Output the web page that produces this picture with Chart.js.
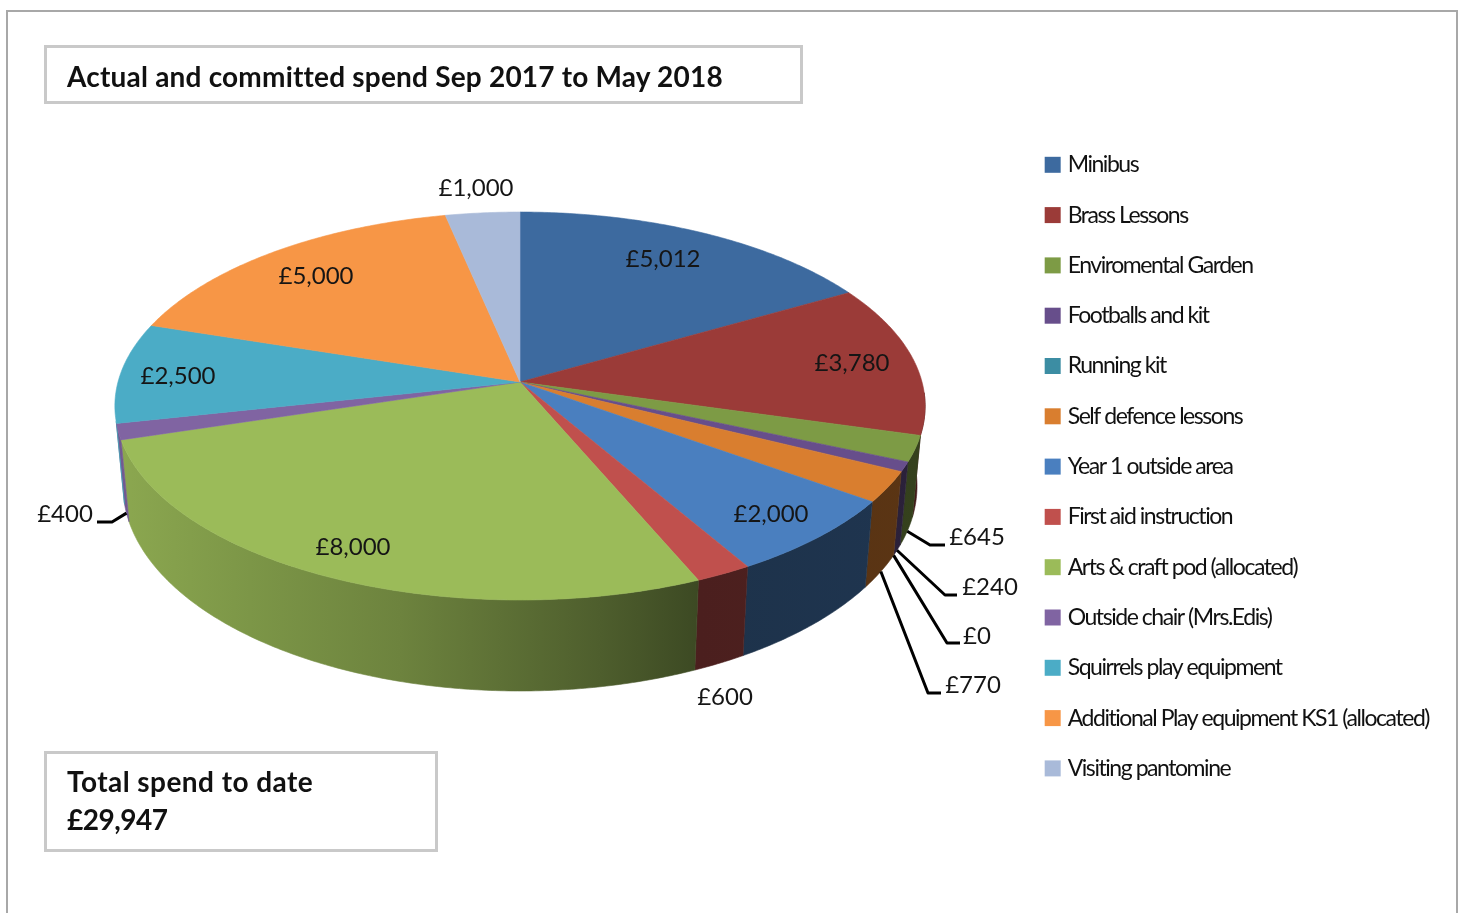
<!DOCTYPE html>
<html>
<head>
<meta charset="utf-8">
<title>Actual and committed spend</title>
<script src="https://cdn.jsdelivr.net/npm/chart.js@4"></script>
<style>
  html, body { margin: 0; padding: 0; background: #fff; overflow: hidden; }
  #wrap { position: relative; width: 1461px; height: 913px; overflow: hidden; }
  #myChart { position: absolute; left: 0; top: 0; }
  #frame { position: absolute; left: 6px; top: 10px; width: 1448px; height: 920px; border: 2px solid #a8a8a8; }
  .box { position: absolute; box-sizing: border-box; border: 3px solid #c9c9c9; font: bold 28px Lato, sans-serif; color: #111; }
  #titleBox { left: 44px; top: 45px; width: 759px; height: 59px; padding: 11px 0 0 20px; letter-spacing: 0.2px; }
  #totalBox { left: 44px; top: 751px; width: 394px; height: 101px; padding: 8px 0 0 20px; line-height: 38px; letter-spacing: 0.45px; }
  #totalBox span { letter-spacing: -0.5px; }
</style>
</head>
<body>
<div id="wrap">
  <div id="frame"></div>
  <canvas id="myChart" width="1461" height="913"></canvas>
  <div class="box" id="titleBox">Actual and committed spend Sep 2017 to May 2018</div>
  <div class="box" id="totalBox">Total spend to date<br><span>£29,947</span></div>
</div>
<script>
// chart data
const categories = ['Minibus', 'Brass Lessons', 'Enviromental Garden', 'Footballs and kit', 'Running kit',
  'Self defence lessons', 'Year 1 outside area', 'First aid instruction', 'Arts & craft pod (allocated)',
  'Outside chair (Mrs.Edis)', 'Squirrels play equipment', 'Additional Play equipment KS1 (allocated)', 'Visiting pantomine'];
const spend = [5012, 3780, 645, 240, 0, 770, 2000, 600, 8000, 400, 2500, 5000, 1000];
const sliceColors = ['#3d6a9f', '#9b3b38', '#7d9b45', '#674e8b', '#3c8da3', '#d97e2f', '#4a7fbf',
  '#c0504d', '#9bbb59', '#8064a2', '#4bacc6', '#f79646', '#a9bad9'];

// where each value label sits, in page pixels, same order as spend
const labelSpots = [[663, 259], [852, 363], [977, 537], [990, 587], [977, 636], [973, 685], [771, 514],
  [725, 697], [353, 547], [65, 514], [178, 376], [316, 276], [476, 188]];
// outer end of the leader lines: [elbow x, elbow y, end x]
const leaders = { 2: [930, 545, 945], 3: [945, 595, 957], 4: [947, 643, 960], 5: [928, 693, 941], 9: [112, 522, 97] };

// pie look: apex, radii and perspective
const apexX = 520, apexY = 382, radX = 402, radY = 191, persp = 0.1238;
const wallDepth = 80, wallGrow = 11, wallShrink = 0.98, ellipseMidY = 406, ellipseHalfY = 194;
const wallShade = [[115, 0.9], [250, 0.8], [400, 0.7], [600, 0.5], [700, 0.39], [925, 0.42]];
const legendSpacing = '-1.45px';

function topPoint(angle) {
  const u = Math.cos(angle), v = Math.sin(angle), d = 1 - persp * v;
  return [apexX + radX * u / d, apexY + radY * v / d];
}

function bottomPoint(angle) {
  const p = topPoint(angle);
  return [apexX + (p[0] - apexX) * wallShrink,
    p[1] + wallDepth + (p[1] - ellipseMidY) / ellipseHalfY * wallGrow];
}

function rimAngles(start, end) {
  const out = [], steps = Math.max(2, Math.ceil((end - start) / 0.01));
  for (let i = 0; i <= steps; i++) out.push(start + (end - start) * i / steps);
  return out;
}

// the wall only shows on the front of the pie
function wallShows(angle) {
  return Math.sin(angle) >= (Math.cos(angle) < 0 ? 0.2 : 0.05);
}

function shade(hex, f) {
  const n = parseInt(hex.slice(1), 16);
  return 'rgb(' + Math.round((n >> 16) * f) + ',' + Math.round(((n >> 8) & 255) * f) + ',' + Math.round((n & 255) * f) + ')';
}

const pie3d = {
  id: 'pie3d',
  beforeLayout(chart) { chart.ctx.letterSpacing = legendSpacing; },
  beforeDraw(chart) { chart.ctx.letterSpacing = legendSpacing; },
  beforeDatasetsDraw(chart) {
    const ctx = chart.ctx, arcs = chart.getDatasetMeta(0).data;
    ctx.save();
    ctx.letterSpacing = '0px';

    // side wall
    arcs.forEach((arc, i) => {
      if (spend[i] === 0) return;
      const angles = rimAngles(arc.startAngle, arc.endAngle).filter(wallShows);
      if (angles.length < 2) return;
      const g = ctx.createLinearGradient(115, 0, 925, 0);
      wallShade.forEach(s => g.addColorStop((s[0] - 115) / 810, shade(sliceColors[i], s[1])));
      ctx.beginPath();
      angles.forEach((a, k) => { const p = topPoint(a); k ? ctx.lineTo(p[0], p[1]) : ctx.moveTo(p[0], p[1]); });
      angles.slice().reverse().forEach(a => { const p = bottomPoint(a); ctx.lineTo(p[0], p[1]); });
      ctx.closePath();
      ctx.fillStyle = g;
      ctx.strokeStyle = g;
      ctx.lineWidth = 0.6;
      ctx.fill();
      ctx.stroke();
    });

    // top face
    arcs.forEach((arc, i) => {
      if (spend[i] === 0) return;
      ctx.beginPath();
      ctx.moveTo(apexX, apexY);
      rimAngles(arc.startAngle, arc.endAngle).forEach(a => { const p = topPoint(a); ctx.lineTo(p[0], p[1]); });
      ctx.closePath();
      ctx.fillStyle = sliceColors[i];
      ctx.strokeStyle = sliceColors[i];
      ctx.lineWidth = 0.6;
      ctx.fill();
      ctx.stroke();
    });

    // leader lines
    ctx.strokeStyle = '#000';
    ctx.lineWidth = 3;
    ctx.lineJoin = 'round';
    Object.keys(leaders).forEach(i => {
      const arc = arcs[i], p = bottomPoint((arc.startAngle + arc.endAngle) / 2), l = leaders[i];
      ctx.beginPath();
      ctx.moveTo(p[0], p[1]);
      ctx.lineTo(l[0], l[1]);
      ctx.lineTo(l[2], l[1]);
      ctx.stroke();
    });

    // value labels
    ctx.font = '24px Lato, sans-serif';
    ctx.fillStyle = '#151515';
    ctx.textAlign = 'center';
    ctx.textBaseline = 'middle';
    spend.forEach((v, i) => {
      ctx.fillText('£' + v.toLocaleString('en-GB'), labelSpots[i][0], labelSpots[i][1]);
    });
    ctx.restore();
    return false;
  }
};

new Chart(document.getElementById('myChart'), {
  type: 'pie',
  data: {
    labels: categories,
    // border only thickens the legend squares, the slices are painted by pie3d
    datasets: [{ data: spend, backgroundColor: sliceColors, borderColor: sliceColors, borderWidth: 9 }]
  },
  options: {
    responsive: false,
    animation: false,
    layout: { padding: { top: 126, right: 22 } },
    plugins: {
      tooltip: { enabled: false },
      legend: {
        position: 'right',
        align: 'start',
        labels: {
          boxWidth: 7,
          boxHeight: 7,
          padding: 27.3,
          color: '#111',
          font: { family: 'Lato', size: 23 }
        }
      }
    }
  },
  plugins: [pie3d]
});
</script>
</body>
</html>
